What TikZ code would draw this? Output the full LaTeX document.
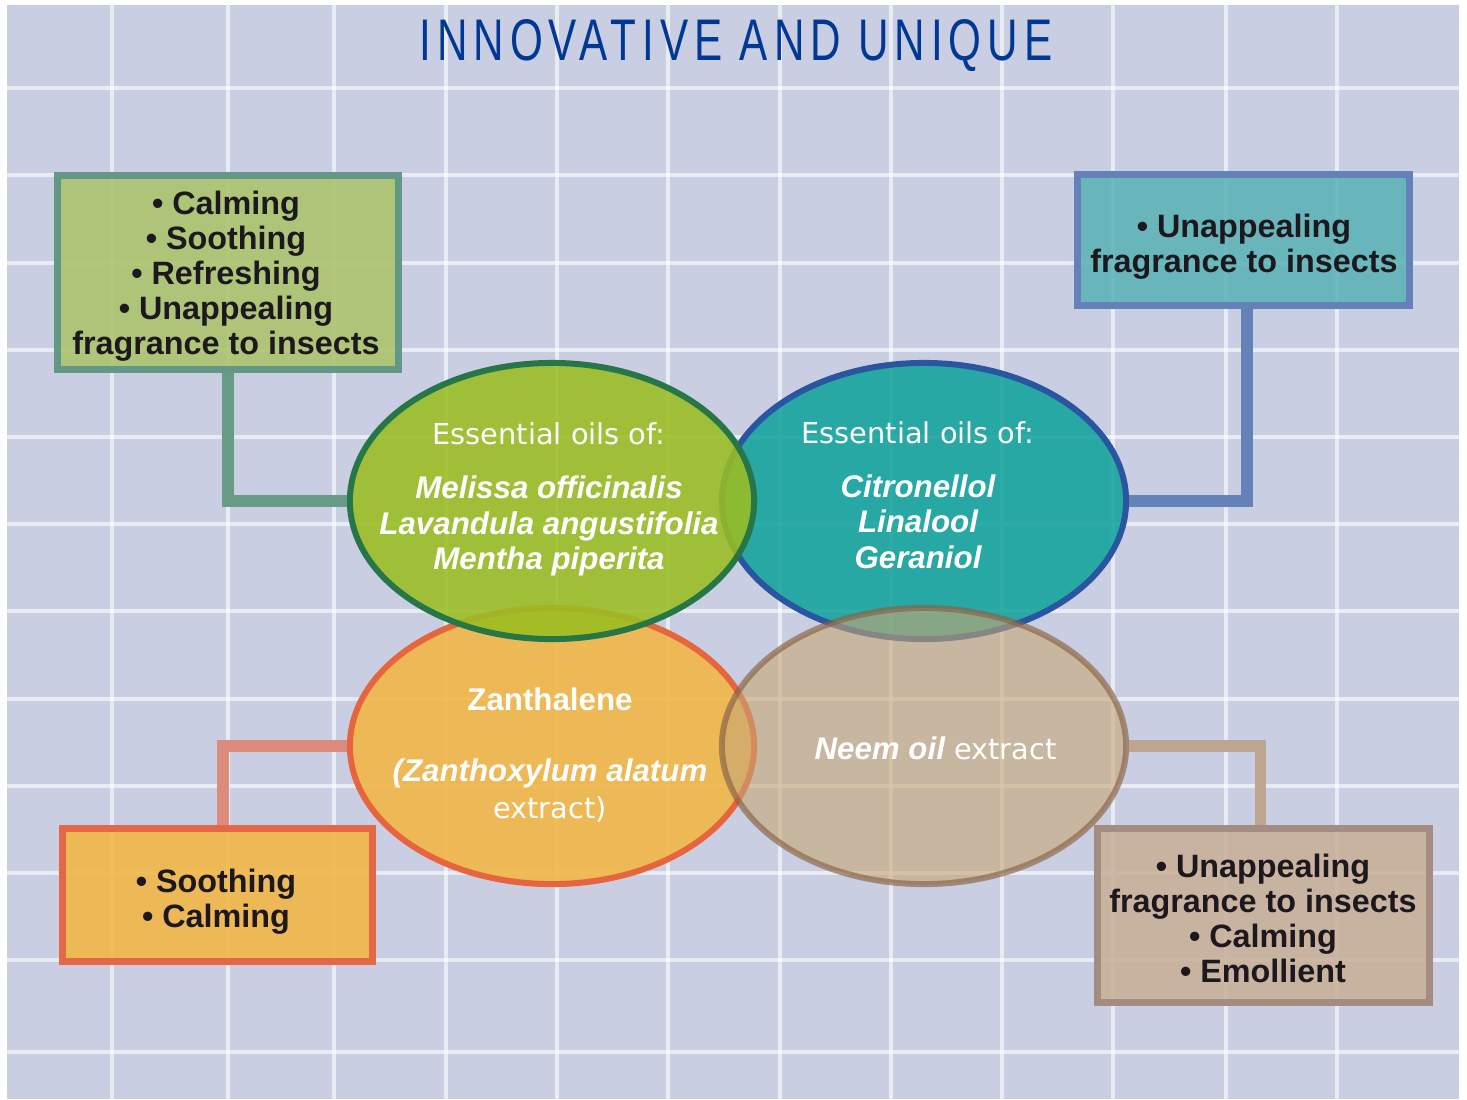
\documentclass[tikz,border=0pt]{standalone}
\usepackage{fontspec}
\usepackage{graphicx}
\usepackage{tikz}
\usetikzlibrary{shapes.geometric,positioning}
\setmainfont{Liberation Sans}
\newfontfamily\dejavu{DejaVu Sans}
\newfontfamily\titlefont[LetterSpace=14]{Liberation Sans}
\newcommand\oilplain{\dejavu\mdseries\upshape\fontsize{8.2}{10.1}\selectfont}
\definecolor{gridbg}{RGB}{201,206,226}
\definecolor{titleblue}{RGB}{0,56,147}
\definecolor{inkblack}{RGB}{28,24,30}
\definecolor{melissafill}{RGB}{154,190,33}
\definecolor{melissaline}{RGB}{38,118,72}
\definecolor{citrofill}{RGB}{18,163,157}
\definecolor{citroline}{RGB}{42,85,160}
\definecolor{zanthofill}{RGB}{243,181,67}
\definecolor{zantholine}{RGB}{230,100,62}
\definecolor{neemfill}{RGB}{199,166,116}
\definecolor{neemline}{RGB}{138,97,66}
\definecolor{melissapale}{RGB}{171,195,106}
\definecolor{melissaedge}{RGB}{99,152,134}
\definecolor{citropale}{RGB}{91,179,183}
\definecolor{citroedge}{RGB}{100,130,185}
\definecolor{zanthoedge}{RGB}{228,104,70}
\definecolor{neempale}{RGB}{200,176,151}
\definecolor{neemedge}{RGB}{165,140,128}
\definecolor{melissawire}{RGB}{103,155,133}
\definecolor{citrowire}{RGB}{100,130,185}
\definecolor{zanthowire}{RGB}{220,140,125}
\definecolor{neemwire}{RGB}{190,165,145}

\begin{document}
\begin{tikzpicture}[x=0.01cm, y=-0.01cm,
  gridline/.style={white, opacity=0.6, line width=0.9pt},
  infobox/.style={rectangle, draw, line width=2pt, fill opacity=0.88, inner sep=0pt},
  boxtext/.style={align=center, text=inkblack, font=\fontsize{9.2}{9.96}\selectfont\bfseries},
  oval/.style={ellipse, draw, line width=1.7pt, fill opacity=0.88, inner sep=0pt,
    minimum width=4.04cm, minimum height=2.76cm},
  ovaltext/.style={align=center, text=white, font=\fontsize{8.9}{10.1}\selectfont\bfseries\itshape},
  wire/.style={line width=3.4pt}
]
\useasboundingbox (0,0) rectangle (1467,1099);

% Background grid
\fill[gridbg] (7,5) rectangle (1459,1099);
\foreach \gx in {112,228,334,446,557,668,780,891,1002,1113,1226,1337}
  \draw[gridline] (\gx,5) -- (\gx,1099);
\foreach \gy in {88,175,263,350,437,524,611,699,786,873,960,1052}
  \draw[gridline] (7,\gy) -- (1459,\gy);

% Title
\node[anchor=base, text=titleblue, inner sep=0pt] (title) at (736,60)
  {\resizebox{6.32cm}{\height}{\titlefont\fontsize{16.7}{20}\selectfont INNOVATIVE AND UNIQUE}};

% Property boxes
\node[infobox, fill=melissapale, draw=melissaedge, minimum width=3.41cm, minimum height=1.94cm] (melissabox) at (228,272.5) {};
\node[infobox, fill=citropale, draw=citroedge, minimum width=3.32cm, minimum height=1.31cm] (citrobox) at (1243.5,240) {};
\node[infobox, fill=zanthofill, draw=zanthoedge, minimum width=3.10cm, minimum height=1.33cm] (zanthobox) at (217.5,895) {};
\node[infobox, fill=neempale, draw=neemedge, minimum width=3.32cm, minimum height=1.74cm] (neembox) at (1263.5,915.5) {};

% Ingredient ovals
\node[oval, fill=zanthofill, draw=zantholine] (zantho) at (552,746) {};
\node[oval, fill=citrofill, draw=citroline] (citro) at (924,501) {};
\node[oval, fill=melissafill, draw=melissaline] (melissa) at (552,501) {};
\node[oval, fill=neemfill, draw=neemline, fill opacity=0.6, draw opacity=0.65] (neem) at (924,746) {};

% Connectors
\draw[wire, melissawire] (melissabox.south) |- (melissa.west);
\draw[wire, citrowire] (citro.east) -| ([xshift=0.035cm]citrobox.south);
\draw[wire, zanthowire] ([xshift=0.055cm]zanthobox.north) |- (zantho.west);
\draw[wire, neemwire] (neem.east) -| ([xshift=-0.03cm]neembox.north);

% Box texts
\node[boxtext] (melissalist) at (226,276.5) {• Calming\\• Soothing\\• Refreshing\\• Unappealing\\fragrance to insects};
\node[boxtext] (citrolist) at (1244,247) {• Unappealing\\fragrance to insects};
\node[boxtext] (zantholist) at (216,901.6) {• Soothing\\• Calming};
\node[boxtext] (neemlist) at (1263,918.4) {• Unappealing\\fragrance to insects\\• Calming\\• Emollient};

% Oval texts
\node[ovaltext] (melissaoils) at (549,499.4) {{\oilplain Essential oils of:}\\[5.4pt]
  Melissa officinalis\\Lavandula angustifolia\\Mentha piperita};
\node[ovaltext] (citrooils) at (918,495) {{\oilplain Essential oils of:}\\[5.3pt]
  Citronellol\\Linalool\\Geraniol};
\node[ovaltext] (zanthooils) at (550,754.7) {{\upshape Zanthalene}\\[10.1pt]
  (Zanthoxylum alatum\\[0.4pt]{\oilplain extract)}};
\node[ovaltext] (neemoils) at (935.5,748.5) {Neem oil{\oilplain\ extract}};

\end{tikzpicture}
\end{document}
